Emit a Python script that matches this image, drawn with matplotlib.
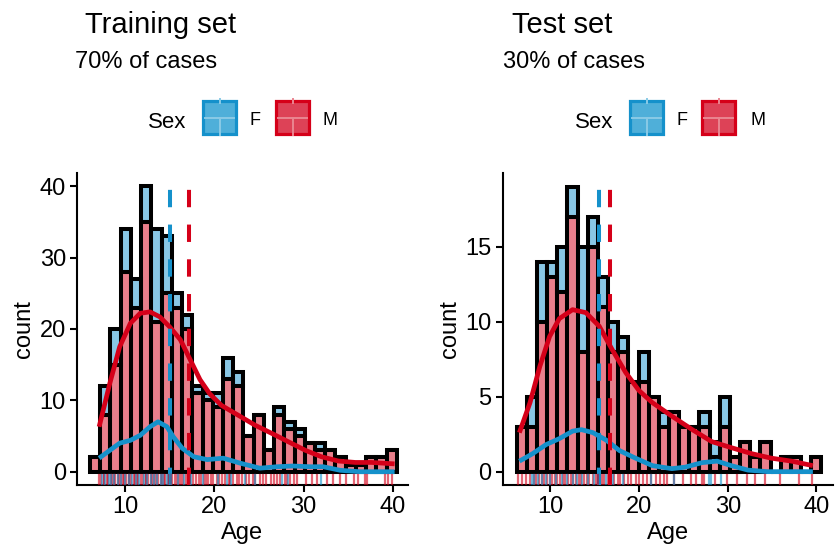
import matplotlib
matplotlib.use("Agg")
import matplotlib.pyplot as plt
from matplotlib.patches import Rectangle
from matplotlib.lines import Line2D
import numpy as np

plt.rcParams['font.family'] = ['Liberation Sans', 'DejaVu Sans']
plt.rcParams['lines.scale_dashes'] = False

# ---- data ----
n_bins = 30

# training set: age range of the bins (first / last bin centre)
train_age_min, train_age_max = 6.65, 39.88
train_F = [0, 4, 5, 6, 4, 5, 13, 8, 2, 2, 1, 1, 2, 3, 2, 0, 0, 0, 1, 1, 1, 0, 1, 0, 0, 0, 0, 0, 0, 0]
train_M = [2, 8, 15, 28, 23, 35, 21, 25, 23, 20, 11, 10, 9, 13, 12, 5, 8, 3, 8, 6, 5, 4, 3, 3, 2, 1, 1, 2, 2, 3]
train_mean_F, train_mean_M = 15.04, 17.13

train_dens_x_M = [7.1, 8.3, 9.4, 10.6, 11.7, 12.8, 13.9, 15.0, 16.2, 17.3, 18.4, 19.5, 20.8,
                  22.7, 24.6, 26.4, 28.3, 30.2, 32.0, 33.9, 35.8, 37.6, 40.2]
train_dens_y_M = [6.3, 12.4, 17.5, 20.8, 22.2, 22.4, 21.7, 20.3, 18.5, 15.7, 12.9, 10.9, 9.3,
                  7.9, 6.5, 5.4, 4.2, 3.0, 2.1, 1.5, 1.3, 1.3, 1.1]
train_dens_x_F = [7.1, 8.3, 9.4, 10.6, 11.7, 12.8, 13.7, 14.7, 15.4, 16.4, 17.7, 19.2, 21.0,
                  22.9, 25.1, 27.0, 28.8, 30.7, 32.2, 34.1, 36.3, 40.2]
train_dens_y_F = [1.9, 3.0, 4.0, 4.4, 5.1, 6.3, 7.0, 6.3, 4.9, 3.3, 2.1, 1.7, 1.9,
                  1.2, 0.5, 0.7, 0.8, 0.7, 0.7, 0.2, 0.0, 0.0]

train_rug_M = [7.1, 7.3, 7.6, 7.7, 8.0, 8.1, 8.4, 8.5, 8.8, 8.9, 9.2, 9.3, 9.5, 9.8, 9.9, 10.1, 10.4,
               10.5, 10.7, 11.0, 11.1, 11.3, 11.5, 11.8, 12.0, 12.3, 12.4, 12.6, 12.9, 13.0, 13.3, 13.5,
               13.7, 14.0, 14.1, 14.4, 14.5, 14.8, 15.1, 15.3, 15.6, 15.8, 16.0, 16.3, 16.5, 16.8,
               17.0, 17.3, 17.6, 17.9, 18.3, 18.5, 18.8, 19.1, 19.3, 19.6, 19.9, 20.3, 20.5, 20.9,
               21.2, 21.6, 21.8, 22.1, 22.5, 22.8, 23.1, 23.5, 23.9, 24.3, 24.6, 25.1, 25.5, 25.8,
               26.3, 26.7, 27.0, 27.4, 27.9, 28.1, 28.5, 28.9, 29.3, 30.3, 30.9, 31.5, 32.6, 33.3,
               34.1, 34.8, 35.6, 36.1, 36.9, 37.1, 39.1, 39.5, 39.9]
train_rug_F = [7.4, 7.8, 8.2, 8.4, 8.8, 9.2, 9.6, 10.0, 10.4, 10.8, 11.2, 11.6, 12.1, 12.5, 12.9,
               13.2, 13.6, 14.0, 14.3, 14.7, 15.2, 15.9, 16.6, 17.4, 18.7, 20.4, 21.4, 21.9, 23.4,
               24.6, 27.6, 28.3, 32.0]

# test set
test_age_min, test_age_max = 6.76, 39.99
test_F = [0, 2, 4, 1, 3, 2, 7, 2, 2, 2, 1, 0, 2, 0, 1, 0, 0, 0, 1, 1, 2, 0, 0, 0, 0, 0, 0, 0, 0, 0]
test_M = [3, 3, 10, 13, 12, 17, 8, 15, 11, 8, 8, 6, 6, 5, 3, 4, 3, 3, 3, 1, 3, 1, 2, 1, 2, 0, 1, 1, 0, 1]
test_mean_F, test_mean_M = 15.45, 16.76

test_dens_x_M = [6.5, 7.7, 8.8, 9.9, 11.0, 12.5, 14.0, 15.5, 17.0, 18.5, 20.0, 21.5, 23.7,
                 26.0, 28.2, 30.4, 32.7, 34.9, 37.2, 39.6]
test_dens_y_M = [2.6, 4.6, 7.0, 9.0, 10.2, 10.8, 10.6, 9.7, 8.1, 6.6, 5.4, 4.6, 3.7,
                 2.8, 2.0, 1.6, 1.2, 0.9, 0.7, 0.4]
test_dens_x_F = [6.5, 8.0, 9.5, 11.0, 12.5, 13.5, 14.8, 16.3, 17.8, 19.6, 21.5, 23.7, 25.2,
                 27.1, 28.8, 30.4, 32.3, 34.5, 39.6]
test_dens_y_F = [0.7, 1.2, 1.8, 2.2, 2.7, 2.8, 2.6, 2.1, 1.4, 0.9, 0.4, 0.2, 0.3,
                 0.6, 0.7, 0.4, 0.1, 0.0, 0.0]

test_rug_M = [6.4, 6.75, 7.3, 7.7, 8.1, 8.4, 8.7, 9.0, 9.3, 9.6, 9.9, 10.2, 10.5, 10.8, 11.1, 11.4,
              11.7, 12.0, 12.3, 12.6, 12.9, 13.2, 13.5, 13.8, 14.1, 14.4, 14.8, 15.1, 15.4, 15.8,
              16.1, 16.5, 16.8, 17.2, 17.6, 17.9, 18.3, 18.7, 19.1, 19.6, 20.0, 20.4, 20.9, 21.3,
              21.9, 22.4, 22.8, 23.2, 23.9, 25.0, 25.8, 26.4, 27.1, 27.3, 28.6, 29.9, 31.0, 32.2,
              33.1, 34.2, 35.9, 38.0, 39.5]
test_rug_F = [7.9, 8.2, 8.6, 9.1, 9.5, 10.0, 10.6, 11.3, 11.9, 12.5, 13.0, 13.6, 14.2, 14.9, 15.6,
              16.3, 17.1, 18.2, 21.3, 23.9, 27.9, 28.1, 29.2]

col_F = '#1591CB'
col_M = '#D50019'
fill_F = (0.08, 0.57, 0.80, 0.5)
fill_M = (0.835, 0.0, 0.10, 0.5)

W, H = 835, 550


def fx(x):
    return x / W


def fy(y):
    return 1 - y / H


def draw_panel(ax, amin, amax, f, m, mean_f, mean_m, dxf, dyf, dxm, dym, rug_f, rug_m):
    centers = np.linspace(amin, amax, n_bins)
    bw = centers[1] - centers[0]
    ax.bar(centers, m, width=bw, facecolor=fill_M, edgecolor='black', linewidth=2.9, zorder=2)
    ax.bar(centers, f, width=bw, bottom=m, facecolor=fill_F, edgecolor='black', linewidth=2.9, zorder=2)
    ax.plot(dxf, dyf, color=col_F, lw=3.4, solid_capstyle='butt', zorder=3)
    ax.plot(dxm, dym, color=col_M, lw=3.4, solid_capstyle='butt', zorder=3)
    ax.axvline(mean_f, color=col_F, lw=2.9, dashes=(12.5, 12.5), zorder=4)
    ax.axvline(mean_m, color=col_M, lw=2.9, dashes=(12.5, 12.5), zorder=4)
    for v in rug_m:
        ax.axvline(v, ymin=0, ymax=0.032, color=col_M, alpha=0.6, lw=1.6, zorder=5)
    for v in rug_f:
        ax.axvline(v, ymin=0, ymax=0.032, color=col_F, alpha=0.6, lw=1.6, zorder=5)
    for s in ['top', 'right']:
        ax.spines[s].set_visible(False)
    for s in ['left', 'bottom']:
        ax.spines[s].set_linewidth(1.5)
    ax.tick_params(width=1.5, length=5, labelsize=17, pad=3)
    ax.set_xticks([10, 20, 30, 40])
    ax.set_xlabel('Age', fontsize=17, labelpad=3)
    ax.set_ylabel('count', fontsize=17, labelpad=3)


def draw_key(x0, y0, size, border, fill, inner):
    fig.add_artist(Rectangle((fx(x0), fy(y0 + size)), size / W, size / H, transform=fig.transFigure,
                             facecolor=fill, edgecolor=border, lw=2.3))
    xm = x0 + size / 2
    ym = y0 + size / 2
    fig.add_artist(Line2D([fx(x0 + 2), fx(x0 + size - 2)], [fy(ym), fy(ym)],
                          transform=fig.transFigure, color=inner, lw=1.4))
    fig.add_artist(Line2D([fx(xm), fx(xm)], [fy(ym), fy(y0 + size + 1)],
                          transform=fig.transFigure, color=inner, lw=1.4))
    fig.add_artist(Line2D([fx(xm), fx(xm)], [fy(y0 - 2), fy(y0 + 2)],
                          transform=fig.transFigure, color=inner, lw=1.4))


fig = plt.figure(figsize=(8.35, 5.5), dpi=100)

ax1 = fig.add_axes([fx(77), fy(485), (408 - 77) / W, (485 - 172.7) / H])
draw_panel(ax1, train_age_min, train_age_max, train_F, train_M, train_mean_F, train_mean_M,
           train_dens_x_F, train_dens_y_F, train_dens_x_M, train_dens_y_M, train_rug_F, train_rug_M)
ax1.set_xlim(4.62, 41.7)
ax1.set_ylim(-1.86, 41.9)
ax1.set_yticks([0, 10, 20, 30, 40])

ax2 = fig.add_axes([fx(502.7), fy(485), (833 - 502.7) / W, (485 - 172.7) / H])
draw_panel(ax2, test_age_min, test_age_max, test_F, test_M, test_mean_F, test_mean_M,
           test_dens_x_F, test_dens_y_F, test_dens_x_M, test_dens_y_M, test_rug_F, test_rug_M)
ax2.set_xlim(4.62, 41.87)
ax2.set_ylim(-0.89, 19.93)
ax2.set_yticks([0, 5, 10, 15])

# titles and subtitles
fig.text(fx(85), fy(33), 'Training set', fontsize=21, va='baseline')
fig.text(fx(75), fy(68), '70% of cases', fontsize=17, va='baseline')
fig.text(fx(512), fy(33), 'Test set', fontsize=21, va='baseline')
fig.text(fx(503), fy(68), '30% of cases', fontsize=17, va='baseline')

# legends
for sx, kf, tf, km, tm in [(148, 203, 250, 276, 323), (575, 630, 677, 702, 750)]:
    fig.text(fx(sx), fy(128), 'Sex', fontsize=16, va='baseline')
    draw_key(kf, 101, 33, col_F, '#4FAFD9', '#8ACAE6')
    fig.text(fx(tf), fy(125), 'F', fontsize=13, va='baseline')
    draw_key(km, 101, 33, col_M, '#DD4257', '#EA8591')
    fig.text(fx(tm), fy(125), 'M', fontsize=13, va='baseline')

fig.savefig('out.png', dpi=100)
